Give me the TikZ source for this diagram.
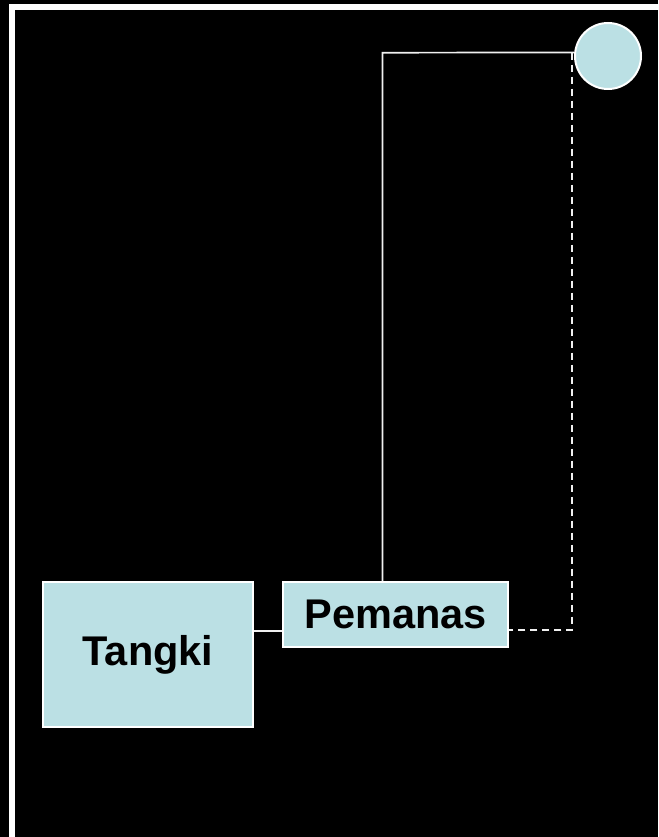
\documentclass[tikz,border=0pt]{standalone}
\usepackage{fontspec}
\setmainfont{Liberation Sans}
\definecolor{paleteal}{RGB}{187,224,228}
\begin{document}
\begin{tikzpicture}[x=1pt,y=-1pt,
  unit/.style={draw=white, line width=2pt, fill=paleteal, inner sep=0pt,
    font=\fontsize{41.5}{48}\selectfont\bfseries, text=black},
  pipe/.style={draw=white!94!black, line width=1.7pt},
  returnpipe/.style={draw=white!94!black, line width=2pt, dash pattern=on 7pt off 5pt}]
  \useasboundingbox (0,0) rectangle (658,837);
  \clip (0,0) rectangle (658,837);
  \fill[black] (0,0) rectangle (658,837);
  % outer frame, running off the right and bottom edges
  \draw[white, line width=6pt] (12,850) -- (12,7) -- (670,7);

  % units
  \node[unit, minimum width=210pt, minimum height=145pt] (tangki) at (148,654.5) {Tangki};
  \node[unit, minimum width=225pt, minimum height=65pt] (pemanas) at (395.5,614.5) {Pemanas};
  \node[circle, draw=white, line width=2pt, fill=paleteal, minimum size=66pt, inner sep=0pt] (bulb) at (608,56) {};

  % routing points
  \coordinate (lowlink) at (0,631);
  \coordinate (riser) at (382.5,52.7);
  \coordinate (dropcorner) at (572,52.7);
  \coordinate (dropfoot) at (572,630);

  % tank to heater
  \draw[pipe] (tangki.east |- lowlink) -- (pemanas.west |- lowlink);
  % heater up to the bulb
  \draw[pipe] (pemanas.north -| riser) -- (riser) -- (bulb.174);
  % return line from the bulb back to the heater
  \draw[returnpipe] (dropcorner) -- (dropfoot) -- (pemanas.east |- dropfoot);
\end{tikzpicture}
\end{document}
